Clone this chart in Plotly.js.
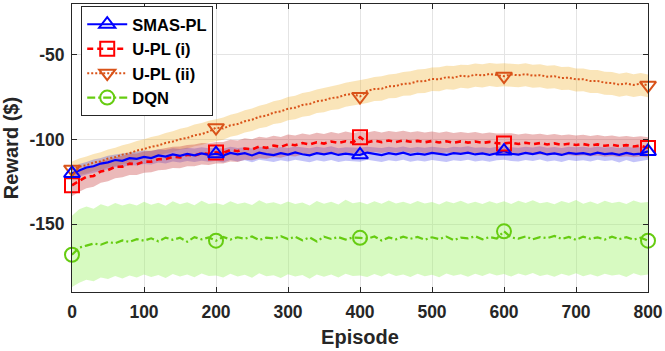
<!DOCTYPE html>
<html>
<head>
<meta charset="utf-8">
<script src="https://cdn.plot.ly/plotly-3.0.1.min.js"></script>
<style>
  html, body { margin: 0; padding: 0; background: #fff; }
  #chart { width: 665px; height: 351px; }
</style>
</head>
<body>
<div id="chart"></div>
<script>
const episodes = [];
for (let e = 0; e <= 800; e += 10) episodes.push(e);
const markerEpisodes = [0, 200, 400, 600, 800];

// --- SMAS-PL (blue, solid) ---------------------------------------------------
const smasMean = [-120,-118.2,-116.5,-115.8,-114.2,-113.5,-112.1,-112.6,-111.0,-111.4,
  -110.3,-110.9,-109.4,-110.1,-108.8,-109.6,-108.5,-109.3,-108.2,-109.0,
  -108.4,-109.5,-107.9,-108.8,-108.1,-109.4,-107.8,-108.6,-109.2,-108.0,
  -108.9,-107.6,-108.7,-109.3,-108.1,-108.8,-107.9,-109.1,-108.3,-108.9,
  -109.0,-107.7,-108.6,-109.2,-108.0,-108.7,-107.8,-109.0,-108.3,-108.9,
  -107.9,-108.6,-109.1,-108.0,-108.5,-107.7,-108.8,-108.2,-109.0,-108.1,
  -106.8,-108.4,-108.9,-107.9,-108.6,-107.6,-108.8,-108.2,-109.1,-107.9,
  -108.5,-108.0,-108.9,-107.8,-108.6,-108.2,-109.0,-107.9,-108.7,-108.3,-107.0];
const smasUpper = [-117,-114.5,-113.2,-111.8,-110.9,-109.6,-108.9,-108.3,-107.6,-107.4,
  -106.5,-106.8,-105.7,-106.2,-105.1,-105.6,-104.8,-105.3,-104.6,-105.2,
  -104.7,-105.4,-104.3,-105.0,-104.5,-105.3,-104.2,-104.9,-105.1,-104.4,
  -105.0,-104.1,-104.8,-105.2,-104.3,-104.9,-104.0,-105.1,-104.5,-104.8,
  -104.9,-104.2,-104.7,-105.0,-104.3,-104.8,-104.1,-105.0,-104.4,-104.9,
  -104.2,-104.7,-105.1,-104.3,-104.6,-104.0,-104.8,-104.5,-105.0,-104.3,
  -104.1,-104.6,-104.9,-104.2,-104.7,-103.9,-104.8,-104.4,-105.0,-104.2,
  -104.6,-104.3,-104.9,-104.1,-104.7,-104.4,-105.0,-104.2,-104.8,-104.5,-104.3];
const smasLower = [-123,-122.0,-120.6,-119.7,-118.4,-117.5,-116.3,-116.4,-115.1,-115.3,
  -114.4,-114.8,-113.6,-114.1,-112.9,-113.6,-112.6,-113.3,-112.5,-113.1,
  -112.6,-113.5,-112.1,-112.9,-112.3,-113.4,-112.0,-112.8,-113.3,-112.2,
  -113.0,-111.9,-112.8,-113.4,-112.3,-112.9,-112.1,-113.2,-112.5,-113.0,
  -113.1,-112.0,-112.7,-113.3,-112.2,-112.8,-112.0,-113.1,-112.4,-113.0,
  -112.1,-112.7,-113.2,-112.2,-112.6,-111.9,-112.9,-112.4,-113.1,-112.3,
  -112.0,-112.6,-113.0,-112.1,-112.7,-111.8,-112.9,-112.4,-113.2,-112.1,
  -112.6,-112.2,-113.0,-112.0,-112.7,-112.3,-113.6,-112.1,-113.4,-112.5,-112.0];

// --- U-PL (i) (red, dashed) --------------------------------------------------
const upl1Mean = [-127.0,-124.3,-122.0,-121.5,-118.8,-118.0,-116.1,-116.0,-114.2,-114.6,
  -113.0,-113.1,-111.6,-111.5,-110.2,-110.6,-109.0,-109.5,-108.1,-108.6,
  -107.6,-107.9,-106.2,-106.9,-105.3,-105.8,-104.2,-104.9,-103.6,-104.3,
  -102.8,-103.4,-102.1,-102.9,-101.6,-102.4,-101.2,-102.0,-101.0,-101.8,
  -98.6,-101.6,-100.7,-101.5,-100.6,-101.4,-100.5,-101.3,-100.8,-101.6,
  -100.9,-101.7,-101.0,-101.9,-101.1,-101.8,-101.2,-102.0,-101.4,-102.2,
  -102.3,-101.8,-102.6,-101.9,-102.7,-102.1,-102.9,-102.3,-103.1,-102.5,
  -103.2,-102.7,-103.5,-102.9,-103.7,-103.1,-103.9,-103.3,-104.1,-103.6,-105.0];
const upl1Upper = [-121.0,-118.0,-116.2,-115.0,-112.9,-111.8,-110.3,-109.6,-108.4,-108.2,
  -107.0,-106.6,-105.8,-105.2,-104.3,-104.1,-103.2,-103.0,-102.1,-102.2,
  -101.4,-101.5,-100.2,-100.6,-99.3,-99.8,-98.4,-98.9,-97.8,-98.5,
  -97.0,-97.6,-96.4,-97.2,-96.0,-96.7,-95.6,-96.4,-95.3,-96.1,
  -95.4,-95.9,-95.0,-95.8,-94.9,-95.6,-94.8,-95.7,-95.1,-95.9,
  -95.2,-96.0,-95.3,-96.1,-95.5,-96.2,-95.6,-96.4,-95.8,-96.5,
  -96.2,-96.3,-97.0,-96.4,-97.1,-96.6,-97.3,-96.8,-97.5,-97.0,
  -97.6,-97.2,-97.9,-97.4,-98.1,-97.6,-98.3,-97.9,-98.5,-98.0,-98.6];
const upl1Lower = [-133.5,-130.8,-128.8,-127.8,-125.5,-124.6,-122.8,-122.3,-121.0,-120.9,
  -119.6,-119.3,-118.2,-117.9,-116.8,-116.9,-115.7,-115.8,-114.8,-115.0,
  -114.1,-114.2,-112.9,-113.2,-112.0,-112.3,-111.0,-111.4,-110.3,-110.8,
  -109.6,-110.0,-108.9,-109.5,-108.4,-108.9,-108.0,-108.6,-107.7,-108.3,
  -107.9,-108.1,-107.3,-108.0,-107.2,-107.8,-107.1,-107.9,-107.4,-108.1,
  -107.5,-108.2,-107.6,-108.3,-107.8,-108.4,-107.9,-108.6,-108.1,-108.7,
  -108.5,-108.5,-109.1,-108.6,-109.2,-108.8,-109.4,-108.9,-109.6,-109.1,
  -109.7,-109.3,-109.9,-109.5,-110.1,-109.7,-110.3,-109.9,-110.5,-110.0,-110.6];

// --- U-PL (ii) (orange, dotted) ----------------------------------------------
const upl2Mean = [-117.5,-116.0,-115.2,-113.6,-112.9,-111.2,-110.4,-108.9,-108.1,-106.5,
  -105.6,-104.3,-103.5,-102.0,-101.2,-99.8,-99.1,-97.5,-96.8,-95.3,
  -93.0,-93.5,-91.6,-90.9,-89.2,-88.3,-86.6,-85.9,-84.1,-83.4,
  -81.8,-81.2,-79.6,-79.0,-77.4,-76.9,-75.5,-75.0,-73.6,-73.1,
  -74.6,-71.3,-70.2,-70.0,-68.6,-68.4,-67.1,-66.9,-65.6,-65.5,
  -64.3,-64.4,-63.2,-63.5,-62.4,-62.8,-61.7,-62.2,-61.3,-61.9,
  -62.6,-61.6,-62.1,-61.4,-62.3,-62.0,-62.9,-62.6,-63.7,-63.5,
  -64.5,-64.4,-65.5,-65.4,-66.5,-66.6,-67.6,-66.9,-67.8,-67.0,-68.0];
const upl2Upper = [-113.0,-111.2,-110.0,-108.5,-107.5,-105.9,-104.9,-103.4,-102.4,-100.9,
  -99.9,-98.5,-97.6,-96.1,-95.1,-93.7,-92.8,-91.2,-90.3,-88.9,
  -88.1,-87.0,-85.3,-84.4,-82.7,-81.7,-80.1,-79.1,-77.4,-76.5,
  -74.9,-74.1,-72.6,-71.8,-70.4,-69.6,-68.4,-67.7,-66.5,-65.8,
  -65.2,-64.1,-63.1,-62.6,-61.6,-61.1,-60.1,-59.7,-58.7,-58.4,
  -57.5,-57.4,-56.5,-56.6,-55.8,-56.0,-55.1,-55.5,-54.8,-55.3,
  -55.0,-55.1,-55.6,-55.0,-55.8,-55.6,-56.4,-56.2,-57.2,-57.1,
  -58.0,-58.0,-59.0,-58.9,-60.0,-60.1,-61.1,-60.5,-61.4,-60.7,-61.6];
const upl2Lower = [-121.5,-120.6,-120.0,-118.5,-118.0,-116.4,-115.8,-114.4,-113.7,-112.3,
  -111.5,-110.3,-109.5,-108.2,-107.4,-106.1,-105.4,-104.0,-103.3,-101.9,
  -101.0,-100.1,-98.3,-97.5,-95.9,-95.0,-93.3,-92.6,-90.9,-90.2,
  -88.6,-88.0,-86.5,-85.9,-84.4,-83.9,-82.5,-82.1,-80.7,-80.2,
  -79.3,-78.4,-77.3,-77.1,-75.7,-75.5,-74.2,-74.0,-72.7,-72.6,
  -71.4,-71.5,-70.3,-70.6,-69.5,-69.9,-68.8,-69.3,-68.4,-69.0,
  -68.6,-68.7,-69.2,-68.5,-69.4,-69.1,-70.0,-69.7,-70.8,-70.6,
  -71.6,-71.5,-72.6,-72.5,-73.6,-73.7,-74.7,-74.0,-74.9,-74.1,-75.0];

// --- DQN (green, dash-dot) ---------------------------------------------------
const dqnMean = [-168.0,-163.8,-162.6,-161.4,-162.1,-160.5,-161.2,-159.6,-160.4,-158.8,
  -159.7,-158.3,-160.1,-157.9,-159.2,-158.0,-160.3,-157.6,-158.9,-157.8,
  -159.7,-157.5,-159.0,-157.7,-158.6,-157.2,-159.3,-157.9,-158.4,-157.1,
  -158.8,-157.4,-159.5,-157.8,-160.2,-157.3,-158.7,-157.6,-159.0,-157.9,
  -158.0,-158.5,-157.2,-159.6,-157.8,-158.9,-157.4,-158.6,-157.5,-159.1,
  -157.7,-158.8,-157.3,-159.4,-157.9,-158.3,-157.1,-158.9,-157.6,-158.4,
  -154.2,-157.8,-158.5,-157.2,-158.9,-157.6,-158.2,-156.9,-158.7,-157.5,
  -159.2,-157.3,-158.6,-157.8,-159.0,-157.4,-158.8,-157.6,-159.1,-157.9,-159.7];
const dqnUpper = [-145.0,-141.2,-139.5,-140.8,-138.2,-139.6,-137.4,-139.0,-137.8,-138.9,
  -136.8,-138.5,-137.3,-139.1,-136.5,-138.2,-137.0,-138.8,-136.2,-138.0,
  -137.4,-138.6,-136.4,-138.1,-137.2,-138.7,-135.9,-137.8,-137.0,-138.4,
  -136.6,-138.0,-137.1,-138.9,-136.3,-137.9,-136.8,-138.3,-135.6,-137.6,
  -136.9,-138.2,-136.5,-137.9,-136.0,-137.7,-136.7,-138.1,-136.3,-137.8,
  -136.9,-138.3,-136.4,-137.6,-136.1,-137.9,-136.8,-138.0,-136.5,-137.7,
  -136.4,-138.1,-136.2,-137.5,-135.8,-137.6,-136.9,-138.2,-136.3,-137.4,
  -135.7,-137.9,-136.6,-138.0,-136.2,-137.5,-136.8,-138.1,-136.0,-137.3,-136.9];
const dqnLower = [-187.0,-184.5,-182.8,-183.6,-181.4,-182.3,-180.6,-182.0,-180.2,-181.5,
  -179.6,-181.2,-180.0,-181.7,-179.4,-180.8,-179.7,-181.3,-179.1,-180.6,
  -180.2,-181.4,-179.3,-180.9,-179.8,-181.6,-179.0,-180.7,-180.1,-181.8,
  -179.5,-180.8,-179.9,-182.2,-179.6,-181.0,-179.7,-181.5,-179.2,-180.6,
  -180.3,-181.1,-179.4,-180.9,-179.0,-180.5,-179.6,-181.2,-179.3,-180.7,
  -179.8,-181.3,-179.1,-180.4,-179.5,-181.0,-179.2,-180.6,-179.0,-180.3,
  -179.4,-180.9,-179.1,-180.2,-178.8,-180.5,-179.6,-181.0,-179.3,-180.4,
  -178.9,-180.7,-179.5,-180.9,-179.2,-180.3,-179.7,-181.1,-179.0,-180.2,-179.6];

const xTicks = [0, 100, 200, 300, 400, 500, 600, 700, 800];
const yTicks = [-150, -100, -50];

const FONT = "'Liberation Sans', Arial, Helvetica, sans-serif";
const AX = "#262626";

const series = [
  { name: "SMAS-PL", mean: smasMean, up: smasUpper, lo: smasLower,
    color: "#0000ff", band: "rgba(40,40,235,0.28)", dash: "solid", width: 2.2, symbol: "triangle-up-open" },
  { name: "U-PL (i)", mean: upl1Mean, up: upl1Upper, lo: upl1Lower,
    color: "#ff0000", band: "rgba(200,60,60,0.36)", dash: "6px,4px", width: 2.6, symbol: "square-open" },
  { name: "U-PL (ii)", mean: upl2Mean, up: upl2Upper, lo: upl2Lower,
    color: "#d95319", band: "rgba(240,180,50,0.34)", dash: "2px,2px", width: 2, symbol: "triangle-down-open" },
  { name: "DQN", mean: dqnMean, up: dqnUpper, lo: dqnLower,
    color: "#66cc11", band: "rgba(155,242,100,0.4)", dash: "8px,3px,2px,3px", width: 2.2, symbol: "circle-open" },
];

const traces = [];
// shaded bands (drawn first, back to front)
[3, 2, 0, 1].forEach((i) => {
  const s = series[i];
  traces.push({
    x: episodes.concat(episodes.slice().reverse()),
    y: s.up.concat(s.lo.slice().reverse()),
    type: "scatter", mode: "lines", fill: "toself",
    fillcolor: s.band, line: { width: 0 }, hoverinfo: "skip", showlegend: false,
  });
});
// noisy mean lines
[3, 2, 1, 0].forEach((i) => {
  const s = series[i];
  traces.push({
    x: episodes, y: s.mean, type: "scatter", mode: "lines",
    line: { color: s.color, width: s.width, dash: s.dash }, showlegend: false,
  });
});
// markers every 200 episodes
[3, 2, 1, 0].forEach((i) => {
  const s = series[i];
  traces.push({
    x: markerEpisodes,
    y: markerEpisodes.map((e) => s.mean[episodes.indexOf(e)]),
    type: "scatter", mode: "markers", cliponaxis: false,
    marker: { symbol: s.symbol, size: 14, color: s.color, line: { color: s.color, width: 2 } },
    showlegend: false,
  });
});
// legend entries
series.forEach((s) => {
  traces.push({
    x: [null], y: [null], type: "scatter", mode: "lines+markers", name: s.name,
    line: { color: s.color, width: s.width, dash: s.dash },
    marker: { symbol: s.symbol, size: 14, color: s.color, line: { color: s.color, width: 2 } },
  });
});

const axisBase = {
  showline: true, linecolor: AX, linewidth: 1, mirror: "ticks",
  ticks: "inside", ticklen: 5, tickcolor: AX, tickwidth: 1,
  showgrid: true, gridcolor: "#e4e4e4", gridwidth: 1, zeroline: false,
  tickfont: { family: FONT, size: 17.5, color: AX, weight: "bold" },
};

const layout = {
  width: 665, height: 351,
  paper_bgcolor: "#ffffff", plot_bgcolor: "#ffffff",
  margin: { l: 72, r: 17, t: 4, b: 59 },
  showlegend: true,
  legend: {
    x: 0.016, y: 0.993, xanchor: "left", yanchor: "top",
    bgcolor: "#ffffff", bordercolor: AX, borderwidth: 1,
    font: { family: FONT, size: 16.5, color: "#000", weight: "bold" },
    itemwidth: 40, tracegroupgap: 0, traceorder: "normal",
  },
  xaxis: Object.assign({}, axisBase, {
    range: [0, 800], tickvals: xTicks, ticktext: xTicks.map(String), ticklabelstandoff: 4,
    title: { text: "Episode", standoff: 8, font: { family: FONT, size: 20, color: AX, weight: "bold" } },
  }),
  yaxis: Object.assign({}, axisBase, {
    range: [-190, -20], tickvals: yTicks, ticktext: yTicks.map(String), ticklabelstandoff: 3,
    title: { text: "Reward ($)", standoff: 10, font: { family: FONT, size: 20, color: AX, weight: "bold" } },
  }),
};

Plotly.newPlot("chart", traces, layout, { displayModeBar: false, staticPlot: true });
</script>
</body>
</html>
